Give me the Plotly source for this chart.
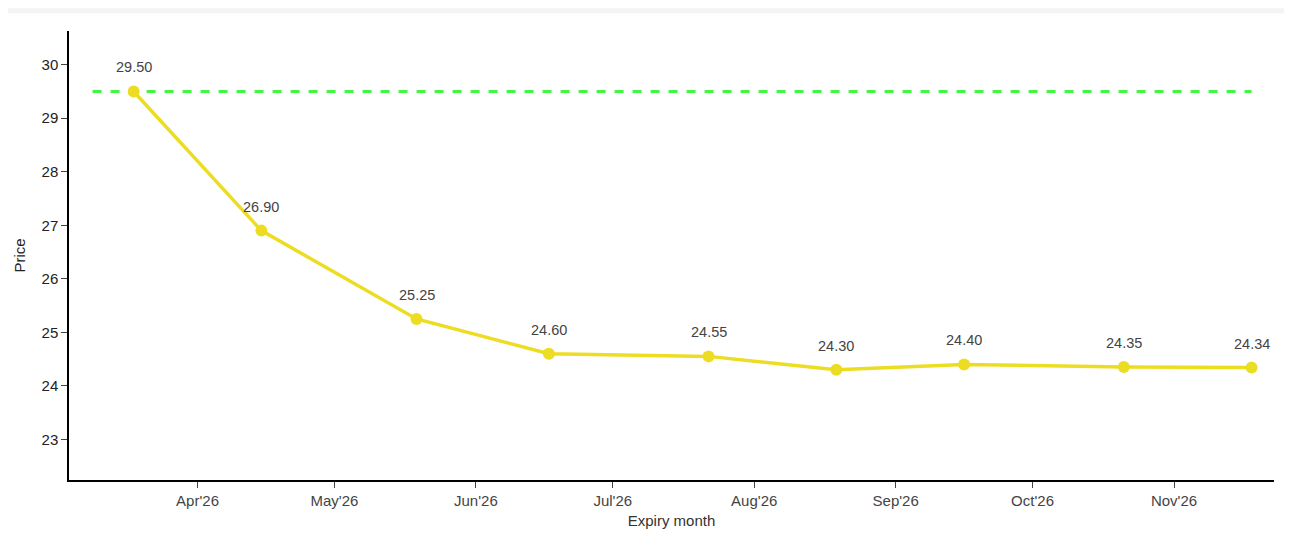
import plotly.graph_objects as go

# futures curve
expiry = ["2026-03-18", "2026-04-15", "2026-05-19", "2026-06-17", "2026-07-22",
          "2026-08-19", "2026-09-16", "2026-10-21", "2026-11-18"]
price = [29.50, 26.90, 25.25, 24.60, 24.55, 24.30, 24.40, 24.35, 24.34]

# spot reference
spot_dates = ["2026-03-09", "2026-11-18"]
spot_price = [29.50, 29.50]

font_family = "Liberation Sans, Arial, sans-serif"

fig = go.Figure()
fig.add_trace(go.Scatter(x=spot_dates, y=spot_price, mode="lines",
                         line=dict(color="#44F544", width=3, dash="dash"),
                         showlegend=False, hoverinfo="skip"))
fig.add_trace(go.Scatter(x=expiry, y=price, mode="lines+markers",
                         line=dict(color="#EDDD22", width=3.5),
                         marker=dict(color="#EDDD22", size=12),
                         showlegend=False))

annotations = []
for d, p in zip(expiry, price):
    annotations.append(dict(x=d, y=p, text="%.2f" % p, showarrow=False,
                            yanchor="middle", yshift=24,
                            font=dict(size=14.5, color="#444", family=font_family)))

fig.update_layout(
    width=1276, height=529,
    margin=dict(l=61, r=10, t=23, b=53),
    paper_bgcolor="white", plot_bgcolor="white",
    font=dict(family=font_family, size=15, color="#333"),
    annotations=annotations,
    shapes=[dict(type="rect", xref="paper", yref="paper",
                 x0=-61 / 1205, x1=1 + 10 / 1205,
                 y0=1 + 18 / 453, y1=1 + 23 / 453,
                 fillcolor="#F4F4F4", line_width=0, layer="below")],
    xaxis=dict(
        title=dict(text="Expiry month", font=dict(size=15, color="#333"), standoff=8),
        type="date", range=["2026-03-03 20:00", "2026-11-22 22:00"],
        dtick="M1", tick0="2026-01-01", tickformat="%b'%y",
        showgrid=False, zeroline=False,
        showline=True, linecolor="black", linewidth=1.5,
        ticks="outside", ticklen=6, tickcolor="#444",
        tickfont=dict(size=15, color="#444"),
    ),
    yaxis=dict(
        title=dict(text="Price", font=dict(size=15, color="#222"), standoff=12),
        range=[22.24, 30.63], dtick=1,
        showgrid=False, zeroline=False,
        showline=True, linecolor="black", linewidth=1.5,
        ticks="outside", ticklen=6, tickcolor="#444",
        tickfont=dict(size=15, color="#222"),
    ),
)

fig.write_html("out.html")
